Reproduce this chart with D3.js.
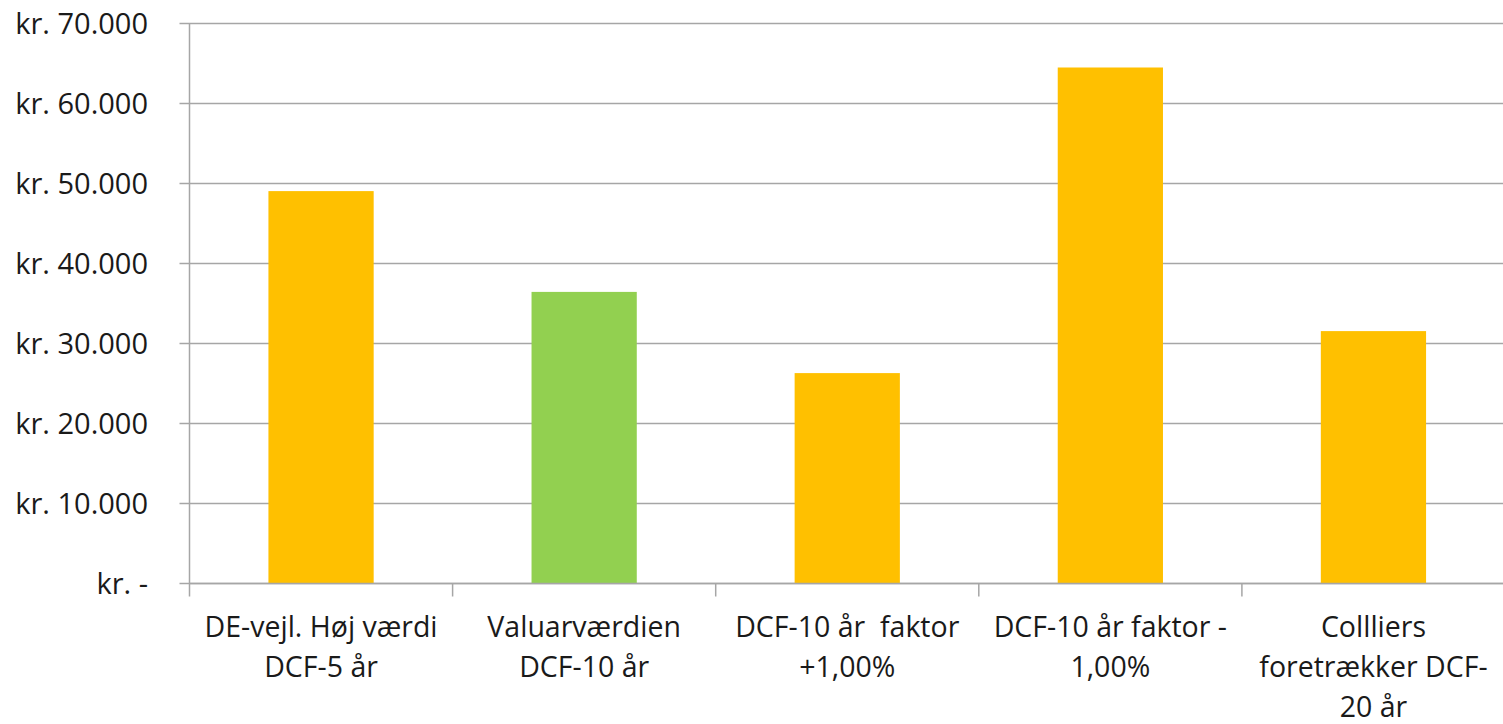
<!DOCTYPE html>
<html><head><meta charset="utf-8">
<script src="https://cdn.jsdelivr.net/npm/d3@7"></script>
<style>html,body{margin:0;padding:0;background:#fff;}svg{display:block;}</style>
</head><body>
<svg id="c" width="1503" height="724"></svg>
<script>
const categories = ["DE-vejl. Høj værdi DCF-5 år","Valuarværdien DCF-10 år","DCF-10 år  faktor +1,00%","DCF-10 år faktor - 1,00%","Collliers foretrækker DCF-20 år"];
const categoryLines = [["DE-vejl. Høj værdi","DCF-5 år"],["Valuarværdien","DCF-10 år"],["DCF-10 år  faktor","+1,00%"],["DCF-10 år faktor -","1,00%"],["Collliers","foretrækker DCF-","20 år"]];
const values = [49050, 36450, 26300, 64500, 31550];
const barColors = ["#FFC000","#92D050","#FFC000","#FFC000","#FFC000"];
const yTicks = [0,10000,20000,30000,40000,50000,60000,70000];
const yTickLabels = ["kr. -","kr. 10.000","kr. 20.000","kr. 30.000","kr. 40.000","kr. 50.000","kr. 60.000","kr. 70.000"];

(function(){
const svg = d3.select("#c");
const pLeft = 189.5, pRight = 1505, pTop = 23.5, pBottom = 583.5;
const font = "'Open Sans', sans-serif";
const fs = 28.5;
const grid = "#a6a6a6";

const x = d3.scaleBand().domain(categories).range([pLeft, pRight]).paddingInner(0.6).paddingOuter(0.3);
const y = d3.scaleLinear().domain([0,70000]).range([pBottom, pTop]);

svg.append("g").selectAll("line").data(yTicks).join("line")
  .attr("x1", pLeft - 10).attr("x2", pRight)
  .attr("y1", d => y(d)).attr("y2", d => y(d))
  .attr("stroke", grid).attr("stroke-width", 1.5);

svg.append("g").selectAll("rect").data(values).join("rect")
  .attr("x", (d,i) => x(categories[i]))
  .attr("width", x.bandwidth())
  .attr("y", d => y(d))
  .attr("height", d => y(0) - y(d))
  .attr("fill", (d,i) => barColors[i]);

svg.append("line").attr("x1", pLeft).attr("x2", pLeft).attr("y1", pTop).attr("y2", pBottom + 13)
  .attr("stroke", grid).attr("stroke-width", 1.5);
svg.append("line").attr("x1", pLeft).attr("x2", pRight).attr("y1", y(0)).attr("y2", y(0))
  .attr("stroke", grid).attr("stroke-width", 1.5);
const step = x.step();
const bounds = d3.range(1, categories.length).map(i => x(categories[i]) - step * x.paddingInner() / 2);
svg.append("g").selectAll("line").data(bounds).join("line")
  .attr("x1", d => d).attr("x2", d => d).attr("y1", pBottom).attr("y2", pBottom + 13)
  .attr("stroke", grid).attr("stroke-width", 1.5);

svg.append("g").selectAll("text").data(yTicks).join("text")
  .attr("x", 148).attr("y", d => y(d)).attr("dy", "0.35em")
  .attr("text-anchor", "end").attr("font-family", font).attr("font-size", 29).attr("fill", "#1a1a1a")
  .text((d,i) => yTickLabels[i]);

const lab = svg.append("g").selectAll("text").data(categories).join("text")
  .attr("text-anchor", "middle").attr("font-family", font).attr("font-size", fs).attr("fill", "#1a1a1a");
lab.each(function(d,i){
  const t = d3.select(this);
  const cx = x(d) + x.bandwidth()/2;
  categoryLines[i].forEach((ln, j) => {
    t.append("tspan").attr("x", cx).attr("y", 637 + j*40).attr("xml:space","preserve").text(ln);
  });
});
})();
</script>
</body></html>
